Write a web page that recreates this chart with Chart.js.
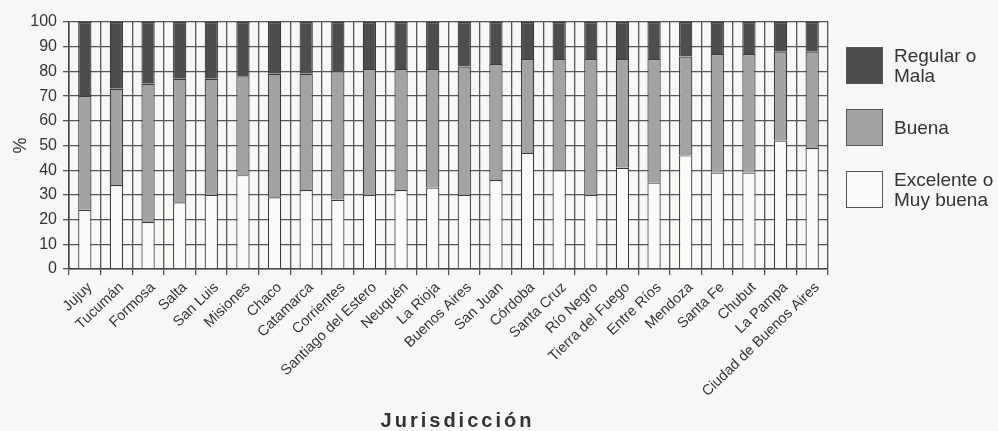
<!DOCTYPE html>
<html>
<head>
<meta charset="utf-8">
<script src="https://cdn.jsdelivr.net/npm/chart.js@4.4.0/dist/chart.umd.min.js"></script>
<style>
  html, body { margin: 0; padding: 0; background: #f7f7f5; }
  #wrap { position: relative; width: 998px; height: 431px; }
  #legend {
    position: absolute; left: 846px; top: 47px;
    font-family: "Liberation Sans", Arial, sans-serif; font-size: 19px; color: #333;
  }
  .item { display: flex; align-items: center; height: 37px; margin-bottom: 25px; }
  .box { width: 35px; height: 35px; border: 1px solid #555; margin-right: 11px; flex: none; }
  .txt { line-height: 20px; white-space: nowrap; }
</style>
</head>
<body>
<div id="wrap">
  <canvas id="chartCanvas" width="998" height="431"></canvas>
  <div id="legend"></div>
</div>
<script>
// datos (% por jurisdicción)
const jurisdicciones = [
  "Jujuy", "Tucumán", "Formosa", "Salta", "San Luis", "Misiones", "Chaco",
  "Catamarca", "Corrientes", "Santiago del Estero", "Neuquén", "La Rioja",
  "Buenos Aires", "San Juan", "Córdoba", "Santa Cruz", "Río Negro",
  "Tierra del Fuego", "Entre Ríos", "Mendoza", "Santa Fe", "Chubut",
  "La Pampa", "Ciudad de Buenos Aires"
];
const excelente = [24, 34, 19, 27, 30, 38, 29, 32, 28, 30, 32, 33, 30, 36, 47, 40, 30, 41, 35, 46, 39, 39, 52, 49];
const buena     = [46, 39, 56, 50, 47, 40, 50, 47, 52, 51, 49, 48, 52, 47, 38, 45, 55, 44, 50, 40, 48, 48, 36, 39];
const regular   = [30, 27, 25, 23, 23, 22, 21, 21, 20, 19, 19, 19, 18, 17, 15, 15, 15, 15, 15, 14, 13, 13, 12, 12];

const FONT = "'Liberation Sans', Arial, sans-serif";
const gridColor = "#555";

const datasets = [
  { label: "Excelente o\nMuy buena", data: excelente, backgroundColor: "#fafaf8" },
  { label: "Buena", data: buena, backgroundColor: "#a3a3a3" },
  { label: "Regular o\nMala", data: regular, backgroundColor: "#4d4d4d" }
].map((d) => Object.assign(d, {
  borderColor: "#3a3a3a",
  borderWidth: 1.2,
  barPercentage: 0.42,
  categoryPercentage: 1.0
}));

// título del eje x con espaciado entre letras
const xTitle = {
  id: "xTitle",
  afterDraw(chart) {
    const c = chart.ctx;
    const area = chart.chartArea;
    c.save();
    c.font = "bold 20px " + FONT;
    c.fillStyle = "#333";
    c.textAlign = "center";
    c.textBaseline = "alphabetic";
    c.letterSpacing = "3px";
    c.fillText("Jurisdicción", (area.left + area.right) / 2 + 9, 427);
    c.restore();
  }
};

const ctx = document.getElementById("chartCanvas").getContext("2d");
new Chart(ctx, {
  type: "bar",
  data: { labels: jurisdicciones, datasets: datasets },
  plugins: [xTitle],
  options: {
    responsive: false,
    animation: false,
    devicePixelRatio: 1,
    layout: { padding: { top: 22, right: 170, left: 0, bottom: 4 } },
    plugins: { legend: { display: false }, tooltip: { enabled: false } },
    scales: {
      x: {
        stacked: true,
        afterFit: (s) => { s.height = 158; },
        grid: { color: gridColor, lineWidth: 1.3, tickLength: 6, offset: true },
        border: { color: "#444", width: 1.5 },
        ticks: {
          autoSkip: false, minRotation: 44, maxRotation: 44, padding: 4, labelOffset: 5,
          color: "#333", font: { family: FONT, size: 14.5 }
        }
      },
      y: {
        stacked: true,
        min: 0, max: 100,
        afterFit: (s) => { s.width = 69; },
        grid: { color: gridColor, lineWidth: 1.3, tickLength: 6 },
        border: { color: "#444", width: 1.5 },
        ticks: { stepSize: 10, padding: 6, color: "#333", font: { family: FONT, size: 16 } },
        title: {
          display: true, text: "%", color: "#333",
          font: { family: FONT, size: 18 }, padding: { top: 10, bottom: 0 }
        }
      }
    }
  }
});

// leyenda a la derecha (de arriba hacia abajo: Regular, Buena, Excelente)
const legend = document.getElementById("legend");
datasets.slice().reverse().forEach((d) => {
  const item = document.createElement("div");
  item.className = "item";
  const box = document.createElement("div");
  box.className = "box";
  box.style.background = d.backgroundColor;
  const txt = document.createElement("div");
  txt.className = "txt";
  txt.innerHTML = d.label.split("\n").join("<br>");
  item.appendChild(box);
  item.appendChild(txt);
  legend.appendChild(item);
});
</script>
</body>
</html>
